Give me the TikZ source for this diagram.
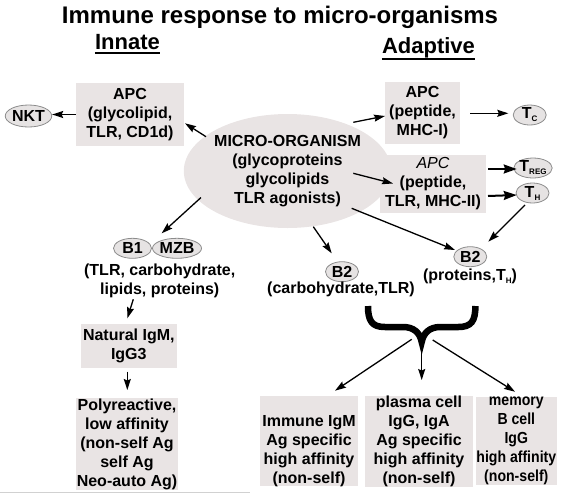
\documentclass[tikz,border=0pt]{standalone}
\usepackage{fontspec}
\setmainfont{Liberation Sans}
\newfontfamily\condfont[FakeStretch=0.88]{Liberation Sans}
\usepackage{tikz}
\usetikzlibrary{arrows.meta, shapes.geometric}
\definecolor{boxfill}{HTML}{E9E4E4}
\definecolor{cellfill}{HTML}{E6E3E3}
\definecolor{cellline}{HTML}{8C8C8C}
\newcommand{\lowsub}[1]{\raisebox{-3pt}{\fontsize{8}{8}\selectfont #1}}

\begin{document}
\begin{tikzpicture}[
    x=1pt, y=-1pt,
    txt/.style={font=\bfseries\fontsize{16}{19}\selectfont, align=center, inner sep=0pt},
    box/.style={txt, fill=boxfill},
    cell/.style={ellipse, draw=cellline, fill=cellfill, line width=0.8pt, inner sep=0pt, minimum width=33pt, minimum height=20pt, font=\bfseries\fontsize{16}{19}\selectfont},
    arr/.style={-{Stealth[length=11pt,width=7pt,inset=1.5pt]}, line width=1.3pt},
    fat/.style={-{Stealth[length=13pt,width=9pt,inset=1.5pt]}, line width=2pt}
]
    \useasboundingbox (0,0) rectangle (561,496);
    % headings
    \node[anchor=base, inner sep=0pt, font=\bfseries\fontsize{24}{28}\selectfont] (title) at (280,23) {Immune response to micro-organisms};
    \node[anchor=base, inner sep=0pt, font=\bfseries\fontsize{22}{26}\selectfont] (innate) at (127.5,49) {Innate};
    \node[anchor=base, inner sep=0pt, font=\bfseries\fontsize{22}{26}\selectfont] (adaptive) at (428.5,53) {Adaptive};
    \draw[line width=2pt] ([yshift=-4pt]innate.base west) -- ([yshift=-4pt]innate.base east);
    \draw[line width=2pt] ([yshift=-5.5pt]adaptive.base west) -- ([yshift=-5.5pt]adaptive.base east);

    % centre
    \node[ellipse, txt, fill=boxfill, minimum width=183pt, minimum height=114pt] (mo) at (287.5,171) {MICRO-ORGANISM\\(glycoproteins\\glycolipids\\TLR agonists)};

    % innate side
    \node[box, minimum width=108pt, minimum height=63pt] (apci) at (130,114.5) {APC\\(glycolipid,\\TLR, CD1d)};
    \node[cell, minimum width=41pt, minimum height=22pt] (nkt) at (28.5,116) {NKT};
    \node[cell, minimum width=38pt] (b1) at (132.5,248.3) {B1};
    \node[cell, minimum width=39pt] (mzb) at (177,248.3) {MZB};
    \node[txt] (b1lab) at (159.7,281.3) {(TLR, carbohydrate,\\lipids, proteins)};
    \node[box, minimum width=96pt, minimum height=44pt] (natigm) at (128.8,346.3) {Natural IgM,\\IgG3};
    \node[box, minimum width=102pt, minimum height=92pt] (poly) at (127,444.2) {Polyreactive,\\low affinity\\(non-self Ag\\self Ag\\Neo-auto Ag)};

    % adaptive side
    \node[box, minimum width=75pt, minimum height=62pt] (apcm1) at (422.5,113) {APC\\(peptide,\\MHC-I)};
    \node[cell] (tc) at (529.7,115) {T\lowsub{C}};
    \node[box, minimum width=106pt, minimum height=58pt] (apcm2) at (433,184) {{\mdseries\itshape APC}\\(peptide,\\TLR, MHC-II)};
    \node[cell] (treg) at (533,168) {T\lowsub{REG}};
    \node[cell] (th) at (532.5,193) {T\lowsub{H}};
    \node[cell] (b2p) at (470.3,256.7) {B2};
    \node[txt, anchor=base] (b2plab) at (470,280) {(proteins,T\lowsub{H})};
    \node[cell] (b2c) at (342,271.7) {B2};
    \node[txt, anchor=base] (b2clab) at (341,293.3) {(carbohydrate,TLR)};
    \node[box, minimum width=98pt, minimum height=84pt] (imm) at (309,441.3) {\vphantom{I}\\Immune IgM\\Ag specific\\high affinity\\(non-self)};
    \node[box, minimum width=108pt, minimum height=84pt] (pla) at (419,441.3) {plasma cell\\IgG, IgA\\Ag specific\\high affinity\\(non-self)};
    \node[box, minimum width=81pt, minimum height=84pt, font=\condfont\bfseries\fontsize{16}{19}\selectfont] (mem) at (516.3,441.3) {memory\\B cell\\IgG\\high affinity\\(non-self)};

    % brace over the three outcomes
    \coordinate (cusp) at (421.7,342);
    \draw[line width=6.5pt] (368,306) .. controls (368,321) and (372,327) .. (385,327) -- (403,327)
        .. controls (414,327) and (420,333) .. (cusp)
        .. controls (423.4,333) and (429.4,327) .. (440.4,327) -- (458.4,327)
        .. controls (471.4,327) and (475.4,321) .. (475.4,306);

    % arrows
    \draw[arr] (apci.west) -- (apci.west -| nkt.east);
    \draw[arr] ([shift={(-81.5,-34.3)}]mo.center) -- ([shift={(55,8.8)}]apci.center);
    \draw[arr] ([shift={(65.8,-48.7)}]mo.center) -- ([shift={(-37.5,3)}]apcm1.center);
    \draw[arr] ([shift={(65.8,2.3)}]mo.center) -- ([shift={(-40,-0.5)}]apcm2.center);
    \draw[arr] ([shift={(64.2,37.3)}]mo.center) -- ([shift={(-15.3,-6.7)}]b2p.center);
    \draw[arr] ([shift={(25.8,55.7)}]mo.center) -- ([shift={(-10.3,-18.4)}]b2c.center);
    \draw[arr] ([shift={(-86.5,26.5)}]mo.center) -- ([shift={(29.2,-15)}]b1.center);
    \draw[arr] ([shift={(47.5,0.3)}]apcm1.center) -- ([shift={(-21.4,-1.7)}]tc.center);
    \draw[fat] ([shift={(55.3,-15)}]apcm2.center) -- ([shift={(-16.3,1)}]treg.center);
    \draw[fat] ([shift={(55,12)}]apcm2.center) -- ([shift={(-15.8,2)}]th.center);
    \draw[arr] ([shift={(-7.5,12)}]th.center) -- ([shift={(18,-15)}]b2p.center);
    \draw[arr] ([shift={(-26.4,18)}]b1lab.center) -- ([shift={(-1.5,-28)}]natigm.center);
    \draw[arr] ([shift={(-1.5,25.4)}]natigm.center) -- ([shift={(0.3,-54.2)}]poly.center);
    \draw[arr] ([shift={(-10,-2.7)}]cusp) -- ([shift={(26,-50.6)}]imm.center);
    \draw[arr] ([shift={(0,3)}]cusp) -- ([shift={(2.7,-61.3)}]pla.center);
    \draw[arr] ([shift={(11,-2)}]cusp) -- ([shift={(-1.3,-49.6)}]mem.center);

    % faint scan edge
    \draw[black!18, line width=0.8pt] (0,492) -- (250,492);
\end{tikzpicture}
\end{document}
